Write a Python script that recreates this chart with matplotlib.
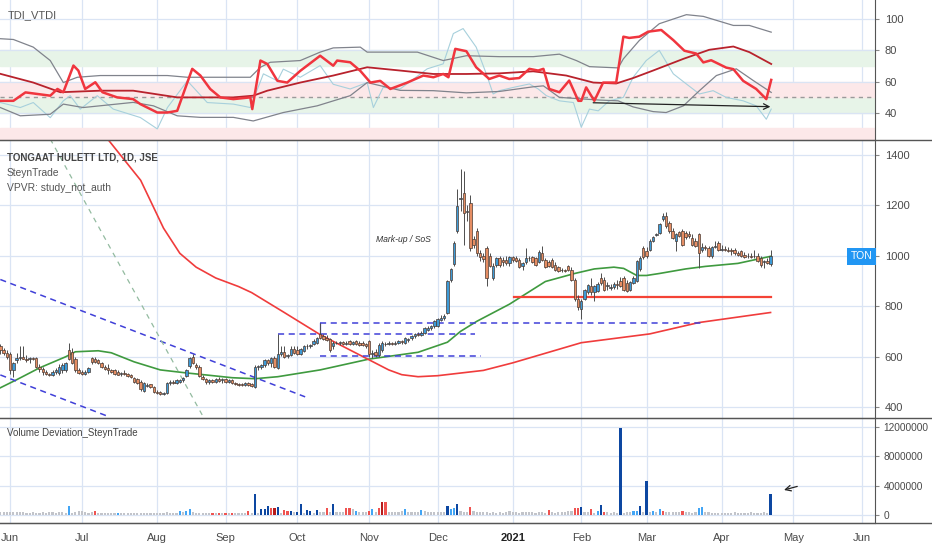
import numpy as np
import pandas as pd
import matplotlib
matplotlib.use('Agg')
import matplotlib.pyplot as plt
from matplotlib.lines import Line2D
from matplotlib.ticker import FuncFormatter

plt.rcParams['font.family'] = ['Liberation Sans', 'DejaVu Sans']

# first bar of the chart, daily bars (business days)
first_day = '2020-05-27'

opens = [
    640, 625, 615, 612, 545, 585, 595, 598, 592, 590,
    594, 594, 560, 552, 540, 530, 528, 538, 535, 545,
    545, 628, 620, 590, 548, 540, 532, 540, 595, 590,
    585, 575, 560, 555, 545, 545, 540, 530, 535, 530,
    525, 515, 510, 500, 465, 485, 490, 478, 460, 458,
    452, 455, 494, 498, 495, 498, 505, 521, 561, 600,
    565, 560, 520, 510, 498, 505, 500, 512, 505, 510,
    500, 505, 495, 492, 490, 488, 495, 490, 480, 560,
    560, 566, 585, 575, 596, 556, 612, 618, 602, 608,
    632, 625, 612, 622, 640, 642, 650, 655, 690, 680,
    675, 670, 640, 655, 652, 658, 650, 660, 650, 660,
    652, 655, 650, 660, 612, 618, 607, 625, 650, 648,
    652, 648, 655, 660, 655, 665, 672, 680, 690, 685,
    693, 705, 715, 720, 722, 745, 752, 773, 906, 966,
    1098, 1225, 1251, 1175, 1211, 1065, 1098, 1010, 1000, 1032,
    1000, 913, 965, 990, 985, 985, 972, 995, 990, 985,
    960, 975, 990, 995, 990, 975, 1010, 985, 975, 985,
    965, 955, 945, 942, 960, 945, 905, 830, 787, 830,
    855, 880, 855, 860, 912, 906, 880, 873, 875, 890,
    900, 912, 893, 865, 893, 899, 946, 1032, 1020, 1025,
    1060, 1082, 1092, 1145, 1158, 1132, 1099, 1060, 1095, 1099,
    1090, 1085, 1072, 1060, 1085, 1025, 1035, 1030, 1000, 1035,
    1052, 1025, 1028, 1025, 1022, 1025, 1010, 1020, 1005, 1000,
    1000, 998, 1000, 990, 975, 980, 968]

highs = [
    650, 635, 625, 620, 580, 615, 640, 640, 605, 600,
    600, 600, 570, 558, 545, 535, 545, 555, 570, 575,
    580, 655, 635, 600, 555, 548, 545, 560, 600, 598,
    592, 580, 565, 570, 550, 550, 548, 540, 545, 535,
    530, 520, 515, 505, 500, 495, 492, 482, 468, 462,
    460, 498, 505, 505, 510, 512, 518, 550, 598, 612,
    575, 565, 525, 515, 512, 510, 514, 518, 515, 516,
    512, 510, 500, 496, 495, 500, 498, 495, 565, 568,
    572, 590, 592, 600, 604, 690, 640, 640, 610, 640,
    640, 640, 635, 645, 648, 650, 668, 676, 735, 690,
    685, 675, 660, 660, 662, 662, 660, 666, 662, 666,
    660, 662, 655, 665, 625, 630, 652, 660, 658, 660,
    658, 660, 665, 666, 676, 675, 685, 695, 698, 700,
    716, 720, 725, 745, 752, 765, 768, 905, 950, 1060,
    1265, 1345, 1338, 1200, 1240, 1080, 1110, 1025, 1010, 1040,
    1010, 970, 995, 1000, 995, 1000, 1000, 1000, 1000, 990,
    975, 1030, 1000, 1000, 995, 1025, 1040, 990, 985, 990,
    975, 960, 950, 948, 965, 955, 910, 845, 830, 870,
    890, 912, 885, 895, 930, 915, 895, 890, 895, 905,
    915, 920, 905, 900, 920, 985, 1000, 1040, 1035, 1065,
    1080, 1090, 1130, 1170, 1175, 1140, 1110, 1090, 1100, 1105,
    1100, 1100, 1085, 1070, 1090, 1050, 1045, 1040, 1040, 1060,
    1060, 1045, 1040, 1035, 1030, 1030, 1020, 1025, 1015, 1010,
    1010, 1025, 1010, 1000, 985, 990, 1025]

lows = [
    610, 605, 590, 530, 520, 575, 585, 590, 580, 575,
    585, 555, 540, 528, 525, 524, 522, 530, 528, 535,
    540, 585, 570, 540, 530, 528, 528, 535, 570, 575,
    570, 555, 545, 530, 535, 525, 525, 522, 525, 518,
    515, 495, 490, 465, 458, 480, 475, 455, 450, 448,
    447, 450, 488, 490, 490, 494, 500, 518, 555, 572,
    550, 518, 505, 492, 492, 494, 495, 500, 495, 495,
    494, 492, 488, 484, 482, 484, 484, 480, 476, 545,
    550, 560, 568, 560, 556, 550, 602, 595, 596, 604,
    610, 608, 608, 618, 630, 635, 645, 650, 670, 665,
    660, 620, 630, 648, 645, 645, 645, 645, 645, 645,
    640, 640, 635, 600, 595, 600, 600, 620, 640, 644,
    645, 644, 648, 650, 650, 658, 665, 675, 680, 680,
    690, 700, 705, 715, 718, 740, 745, 770, 895, 960,
    1090, 1180, 1045, 1140, 1020, 1030, 1000, 980, 975, 880,
    955, 905, 955, 955, 960, 965, 960, 975, 975, 950,
    945, 968, 980, 970, 960, 970, 980, 950, 955, 950,
    940, 935, 935, 936, 940, 900, 820, 785, 748, 825,
    850, 845, 820, 855, 885, 860, 865, 865, 868, 870,
    878, 860, 855, 860, 888, 895, 940, 988, 990, 1020,
    1055, 1078, 1088, 1140, 1110, 1090, 1065, 1020, 1075, 1040,
    1065, 1070, 1040, 1035, 952, 1015, 1025, 995, 990, 1030,
    1020, 1018, 1020, 1015, 1005, 1005, 1000, 995, 990, 990,
    990, 990, 975, 955, 950, 968, 960]

closes = [
    625, 615, 600, 545, 575, 595, 598, 592, 588, 594,
    590, 560, 552, 540, 530, 528, 540, 545, 560, 568,
    574, 590, 575, 548, 535, 532, 540, 555, 578, 580,
    575, 560, 552, 545, 540, 530, 528, 535, 530, 522,
    520, 500, 495, 470, 495, 488, 478, 460, 455, 452,
    455, 494, 498, 495, 505, 508, 514, 547, 594, 575,
    560, 522, 510, 500, 505, 498, 510, 502, 510, 498,
    508, 495, 492, 488, 486, 495, 488, 484, 558, 562,
    566, 585, 574, 596, 560, 612, 618, 600, 605, 632,
    615, 612, 630, 640, 642, 646, 660, 672, 675, 670,
    665, 628, 655, 652, 658, 650, 655, 650, 658, 648,
    645, 645, 642, 610, 615, 608, 645, 655, 648, 652,
    650, 655, 660, 657, 672, 670, 680, 690, 685, 695,
    712, 715, 720, 740, 748, 752, 762, 899, 946, 1052,
    1198, 1228, 1171, 1178, 1032, 1045, 1012, 995, 986, 913,
    960, 959, 990, 962, 975, 972, 995, 985, 980, 955,
    970, 990, 992, 975, 965, 1015, 985, 955, 960, 955,
    945, 940, 942, 940, 945, 906, 830, 795, 820, 866,
    886, 855, 880, 890, 893, 866, 886, 878, 890, 885,
    880, 866, 862, 895, 912, 979, 992, 995, 1000, 1059,
    1075, 1085, 1125, 1158, 1118, 1099, 1072, 1085, 1080, 1045,
    1075, 1080, 1045, 1040, 1010, 1035, 1030, 1000, 1035, 1040,
    1025, 1028, 1025, 1020, 1018, 1010, 1005, 1000, 995, 998,
    995, 1000, 980, 962, 980, 972, 1000]

# volume in millions of shares, and its colour code per bar
volume_m = [
    .4, .45, .4, .45, .4, .35, .4, .35, .3, .3,
    .35, .3, .3, .35, .3, .35, .4, .3, .45, .35,
    .3, 1.28, .3, .4, .55, .5, .35, .3, .35, .6,
    .3, .25, .3, .25, .3, .25, .3, .25, .3, .25,
    .2, .25, .3, .2, .25, .2, .3, .25, .2, .3,
    .25, .35, .3, .25, .3, .5, .35, .6, .8, .45,
    .3, .25, .2, .3, .25, .3, .2, .3, .25, .3,
    .25, .3, .25, .2, .3, .25, .6, .3, 2.85, .3,
    .8, .8, 1.15, 1.0, .9, 1.05, .3, .7, .5, .5,
    .4, .45, 1.45, .3, .7, .5, .3, .7, .35, .45,
    1.0, .35, 1.5, .35, .4, .4, .9, .95, .8, .6,
    .4, .35, .4, .6, .8, .45, .9, 1.8, 1.8, .4,
    .35, .4, .45, .5, .8, .4, .35, .4, .45, .7,
    .5, .45, .4, .35, .4, .45, .4, 1.15, .8, 1.0,
    1.5, .5, .45, .4, 1.1, .5, .45, .4, .35, .45,
    .3, .35, .3, .35, .3, .4, .5, .45, .35, .3,
    .35, .45, .4, .35, .3, .4, .35, .3, .7, .35,
    .3, .35, .4, .35, .5, .6, .9, 1.0, 1.1, .4,
    .35, .8, .3, .5, 1.4, .4, .35, .3, .35, .3,
    11.9, .3, .35, .4, .5, .6, 1.25, .4, 4.58, .4,
    .6, .45, .75, .5, .45, .4, .35, .45, .4, .6,
    .35, .4, .3, .45, .9, 1.1, .4, .35, .3, .25,
    .3, .25, .3, .25, .3, .35, .25, .3, .25, .3,
    .35, .3, .25, .3, .35, .3, 2.86]

volume_kind = ("gggggggggg" "gggggggggg" "gbgggggggr" "ggggggbggg"
               "gggggggggg" "gggggbgbbg" "gggggrgrgr" "grggggrgBg"
               "BBBrRBgrrB" "gBBgBBgBgg" "rgBgggrrgb" "gggrbgrRrg"
               "ggggbggggb" "gggggggBbb" "Bgggrggggg" "gggggggggg"
               "ggggggggrg" "ggggggrrBg" "grgbBrgggg" "BgggbbBgBg"
               "bgbrgggggr" "ggggbbgggg" "gggggggggg" "ggggggB")

# moving averages: (bar, price)
ma_green = [(0, 476), (5, 508), (12, 555), (20, 599), (23, 619), (30, 623), (34, 615),
            (41, 579), (49, 547), (57, 535), (63, 527), (71, 516), (78, 512), (85, 520),
            (98, 547), (113, 590), (128, 617), (137, 657), (141, 700), (146, 740),
            (156, 808), (167, 898), (176, 930), (182, 948), (188, 955), (191, 950),
            (195, 922), (198, 922), (202, 930), (210, 948), (216, 958), (226, 970),
            (236, 998)]
ma_red = [(32.5, 1470), (43, 1300), (50, 1110), (55, 1010), (60, 955), (66, 912),
          (73, 878), (77, 854), (87, 775), (98, 687), (113, 587), (119, 547),
          (123, 528), (128, 520), (134, 524), (148, 545), (157, 575), (178, 655),
          (199, 690), (204, 705), (214, 735), (236, 775)]

# TDI lines: (bar, value)
tdi_fast = [(0, 47.7), (4, 47.7), (7.7, 53.1), (15.3, 51), (17.5, 55.3), (19.3, 53.2),
            (22.4, 70.3), (23.9, 67.1), (26, 55.3), (29.1, 59.6), (31.3, 53.2),
            (35.8, 49.9), (40.7, 48.8), (42.9, 45.6), (48.1, 40.2), (51.2, 40.2),
            (54.2, 41.3), (58.8, 68.2), (61.3, 63.9), (64.3, 55.3), (67.4, 49.9),
            (71.4, 48.8), (76.6, 49.9), (77.2, 42.4), (79.7, 73.5), (81.8, 71.3),
            (84.9, 60.5), (87.9, 59.4), (91.9, 66.9), (98, 76.6), (102, 70.2),
            (103.2, 73.5), (107.2, 72.4), (110.3, 66.9), (113.4, 59.4), (116.4, 60.5),
            (119.5, 55.3), (124.7, 59.4), (129.6, 63.9), (132.7, 62.8), (135.7, 64.9),
            (137.3, 62.8), (139.4, 81.0), (142.8, 79.5), (145.8, 69.2), (149.8, 61.7),
            (152.9, 63.9), (155.9, 61.7), (159, 62.3), (162.1, 68.2), (164.8, 67.1),
            (166.4, 68.2), (168.2, 55.3), (171.3, 53.2), (174.3, 60.7), (177.1, 47.7),
            (178, 47.7), (179.5, 56.3), (182, 47.7), (184.7, 59.4), (188.7, 59.4),
            (190.9, 88.8), (192.7, 88.0), (195.8, 88.8), (198.5, 92.0), (202.5, 93.1),
            (206.2, 86.6), (209.6, 79.8), (213.2, 78.0), (215.4, 72.3), (217.8, 73.7),
            (222.4, 69.0), (224.6, 68.0), (227.6, 60.5), (231.6, 55.3), (234.7, 48.8),
            (236.2, 61.1)]
tdi_slow = [(0, 65), (10.1, 59.4), (18.4, 53.2), (30.6, 54.2), (40.7, 54.2), (54.2, 49.9),
            (71.4, 49.9), (77.5, 51), (81.8, 54.2), (91.9, 59.4), (102, 63.9),
            (112.4, 69.2), (122.5, 67.1), (132.7, 64.9), (142.8, 64.9), (152.9, 65.3),
            (163.3, 66.6), (173.4, 63.9), (181.7, 59.4), (188.7, 58.8), (193.9, 62.3),
            (200, 67.1), (209.3, 74.6), (217.2, 80.4), (224.6, 82.5), (229.5, 78.9),
            (236.2, 71.3)]
tdi_upper = [(0, 87.5), (4, 87), (10.1, 82.1), (15.3, 73.5), (19.3, 59.4), (23.6, 62.8),
             (30.6, 63.9), (51.2, 63.9), (57.3, 62.8), (76.6, 62.8), (79.7, 69.2),
             (82.7, 72.4), (91.9, 73.5), (98, 78.9), (102, 81.6), (110.3, 82.1),
             (112.4, 78.9), (127.8, 78.9), (135.7, 73.5), (142.8, 76.6), (152.9, 76),
             (163.3, 76), (171.3, 77.6), (176.5, 73.5), (180.5, 69.6), (189.3, 68.8),
             (190.9, 74.6), (195.8, 86.4), (201.9, 97.1), (210.2, 102.9), (215.4, 101.8),
             (224.6, 96), (229.5, 96), (236.2, 91.7)]
tdi_lower = [(0, 43.4), (6.1, 38.1), (15.3, 39.1), (19.3, 45.6), (25.4, 43.4), (40.7, 46.7),
             (46.9, 44.5), (54.2, 38.1), (61.3, 37.1), (71.4, 37.1), (77.5, 34.8),
             (86.7, 40.2), (97.1, 44.5), (107.2, 51), (112.4, 59.4), (122.5, 54.4),
             (132.7, 54.2), (142.8, 52.8), (152.9, 53.7), (163.3, 56.7), (166.4, 57.3),
             (171.3, 49.9), (183.5, 48.2), (189.3, 47.7), (193.9, 43.8), (200, 40.8),
             (204, 40.2), (209.3, 44.5), (214.2, 54.2), (219.4, 63.9), (225.5, 68.2),
             (230.7, 60.7), (236.2, 53.1)]
tdi_rsi = [(0, 46.6), (6.1, 43.4), (10.1, 46.6), (15.3, 36.9), (19.3, 47.7), (21.4, 51),
           (24.5, 42.4), (29.7, 51), (34.6, 42.4), (42.9, 37), (48.1, 29.7), (51.2, 43.4),
           (57.3, 60.5), (63.4, 46.6), (71.4, 45.6), (76.6, 43.4), (80.6, 65), (84.9, 60.5),
           (86.7, 68), (91.9, 62.8), (98, 70.3), (102, 58.3), (107.2, 55.3), (112.4, 59.4),
           (114.3, 43.4), (117.3, 56.3), (122.5, 55.3), (130.8, 68.2), (135.7, 71.4),
           (138.8, 90.8), (141.8, 94), (145.8, 82.1), (148.9, 65), (151, 52.1),
           (152.9, 54.2), (157.2, 56.3), (162.1, 58.5), (164.8, 55.3), (167.3, 51),
           (171.3, 47.7), (175.6, 46.6), (178, 30.8), (180.5, 42.4), (183.2, 41.3),
           (186.6, 47.7), (190.9, 49.9), (193.9, 62.8), (197.9, 73.5), (201.9, 80),
           (206.2, 65), (210.2, 58.5), (214.2, 52.1), (218.4, 54.2), (222.4, 49.9),
           (227.6, 47.7), (231.6, 44.5), (234.7, 35.9), (236.2, 42.4)]

# drawings on the price pane: (bar, price) end points
channel_upper = [(0, 906), (93.4, 440)]
channel_lower = [(0, 527), (33.5, 360)]
steep_line = [(15.3, 1464), (62.2, 360)]
range_lines = [(98, 215, 735), (85, 145.5, 691), (98, 147.4, 603)]
support_line = (157.5, 236, 838)

W, H = 932, 550
RIGHT = 875
fig = plt.figure(figsize=(W / 100, H / 100), dpi=100)


def pane(top, bottom):
    return [0, 1 - bottom / H, RIGHT / W, (bottom - top) / H]


ax_tdi = fig.add_axes(pane(0, 140))
ax_px = fig.add_axes(pane(140, 418), sharex=ax_tdi)
ax_vol = fig.add_axes(pane(418, 523), sharex=ax_tdi)

grid_c = '#dae4f4'
txt_c = '#4a4a4a'

# month ticks from the business day calendar
days = pd.bdate_range(first_day, periods=275)
per = days.to_period('M')
starts = [i for i in range(1, len(days)) if per[i] != per[i - 1]]
labels = ['2021' if days[i].month == 1 else days[i].strftime('%b') for i in starts]

for ax in (ax_tdi, ax_px, ax_vol):
    ax.set_xlim(-0.1, 268)
    for s in starts:
        ax.axvline(s, color=grid_c, lw=0.9, zorder=0)
    ax.yaxis.tick_right()
    ax.tick_params(axis='y', length=3, color='#888', labelsize=8, labelcolor=txt_c, pad=4)
    ax.spines['left'].set_visible(False)
    ax.spines['top'].set_visible(False)
    ax.spines['bottom'].set_visible(False)
    ax.spines['right'].set_color('#555')
    ax.set_facecolor('white')

# ---- TDI pane
ax_tdi.set_ylim(22.6, 112.3)
ax_tdi.axhspan(70, 80, color='#e7f4e8', zorder=0)
ax_tdi.axhspan(40, 50, color='#e7f4e8', zorder=0)
ax_tdi.axhspan(50, 60, color='#fce8e9', zorder=0)
ax_tdi.axhspan(0, 30, color='#fce8e9', zorder=0)
ax_tdi.set_yticks([40, 60, 80, 100])
for v in [40, 60, 80, 100]:
    ax_tdi.axhline(v, color=grid_c, lw=0.9, zorder=0.5)
ax_tdi.axhline(50, color='#9a9a9a', lw=1, ls=(0, (3, 3)), zorder=1)
for pts, col, lw in [(tdi_rsi, '#a7d0dc', 0.8), (tdi_upper, '#80838c', 0.9),
                     (tdi_lower, '#80838c', 0.9), (tdi_slow, '#b8222c', 1.3),
                     (tdi_fast, '#f0353e', 1.8)]:
    xs, ys = zip(*pts)
    ax_tdi.plot(xs, ys, color=col, lw=lw, zorder=3)
ax_tdi.annotate('', xy=(236.8, 43.9), xytext=(180.8, 46.5),
                arrowprops=dict(arrowstyle='->', color='#222', lw=0.9), zorder=5)
ax_tdi.tick_params(axis='x', bottom=False, labelbottom=False)

# ---- price pane
ax_px.set_ylim(356, 1460)
ax_px.set_yticks(range(400, 1401, 200))
for v in range(400, 1401, 200):
    ax_px.axhline(v, color=grid_c, lw=0.9, zorder=0)

o = np.array(opens, float)
h = np.array(highs, float)
l = np.array(lows, float)
c = np.array(closes, float)
bars = np.arange(len(c))
up = c >= o
ax_px.vlines(bars, l, h, color='#4d4d4d', lw=0.7, zorder=3)
ax_px.bar(bars, np.maximum(np.abs(c - o), 2.5), bottom=np.minimum(o, c), width=0.74,
          color=np.where(up, '#3d9ad6', '#e58d63'), edgecolor='#4a3a33', linewidth=0.5,
          zorder=4)

xs, ys = zip(*ma_green)
ax_px.plot(xs, ys, color='#3f9a3f', lw=1.2, zorder=2)
xs, ys = zip(*ma_red)
ax_px.plot(xs, ys, color='#f03c3c', lw=1.2, zorder=2)

dash_blue = dict(color='#4040d8', lw=1.1, ls=(0, (4, 3)), zorder=2)
for seg in (channel_upper, channel_lower):
    xs, ys = zip(*seg)
    ax_px.plot(xs, ys, **dash_blue)
xs, ys = zip(*steep_line)
ax_px.plot(xs, ys, color='#93bba0', lw=0.9, ls=(0, (4, 4)), zorder=2)
for x0, x1, y in range_lines:
    ax_px.plot([x0, x1], [y, y], **dash_blue)
ax_px.plot([98, 98], [691, 735], color='#4040d8', lw=0.9, zorder=2)
ax_px.plot(support_line[:2], [support_line[2]] * 2, color='#f44336', lw=1.6, zorder=2)

ax_px.text(115, 1065, 'Mark-up / SoS', fontsize=6.2, style='italic', color='#333',
           ha='left', va='center')
ax_px.text(263.9, 998, 'TON', fontsize=7.5, color='white', ha='center', va='center',
           bbox=dict(boxstyle='square,pad=0.35', fc='#2196f3', ec='none'), zorder=6)
ax_px.tick_params(axis='x', bottom=False, labelbottom=False)
ax_px.spines['top'].set_visible(True)
ax_px.spines['top'].set_color('#555')

# ---- volume pane
ax_vol.set_ylim(-1.1, 13.2)
ax_vol.set_yticks([0, 4, 8, 12])
ax_vol.yaxis.set_major_formatter(FuncFormatter(lambda v, p: f'{int(round(v * 1e6))}'))
ax_vol.tick_params(axis='y', labelsize=7.3, pad=3)
for v in [0, 4, 8, 12]:
    ax_vol.axhline(v, color=grid_c, lw=0.9, zorder=0)
kind_col = {'g': '#c2c4ca', 'b': '#42a5f5', 'B': '#0d47a1', 'r': '#ef5350', 'R': '#b71c1c'}
ax_vol.bar(np.arange(len(volume_m)), volume_m, width=0.66,
           color=[kind_col[k] for k in volume_kind], zorder=3)
ax_vol.annotate('', xy=(239.3, 3.3), xytext=(245, 3.98),
                arrowprops=dict(arrowstyle='->', color='#222', lw=0.9), zorder=5)
ax_vol.spines['top'].set_visible(True)
ax_vol.spines['top'].set_color('#555')
ax_vol.spines['bottom'].set_visible(True)
ax_vol.spines['bottom'].set_color('#555')
ax_vol.set_xticks(starts)
ax_vol.set_xticklabels(labels)
ax_vol.tick_params(axis='x', length=0, pad=7, labelsize=8, labelcolor=txt_c)
for t in ax_vol.get_xticklabels():
    if t.get_text() == '2021':
        t.set_fontweight('bold')
        t.set_color('#222')

# separators running across the full width
for y in (140, 418, 523):
    fig.add_artist(Line2D([0, 1], [1 - y / H] * 2, color='#555', lw=1))

# pane captions
fig.text(8 / W, 1 - 15 / H, 'TDI_VTDI', fontsize=8, color='#555', va='center')
fig.text(7 / W, 1 - 157 / H, 'TONGAAT HULETT LTD, 1D, JSE', fontsize=7.0,
         fontweight='bold', color='#444', va='center')
fig.text(7 / W, 1 - 173 / H, 'SteynTrade', fontsize=7.4, color='#555', va='center')
fig.text(7 / W, 1 - 188 / H, 'VPVR: study_not_auth', fontsize=7.4, color='#555', va='center')
fig.text(7 / W, 1 - 433 / H, 'Volume Deviation_SteynTrade', fontsize=7.0, color='#444',
         va='center')

fig.savefig('out.png', dpi=100)
